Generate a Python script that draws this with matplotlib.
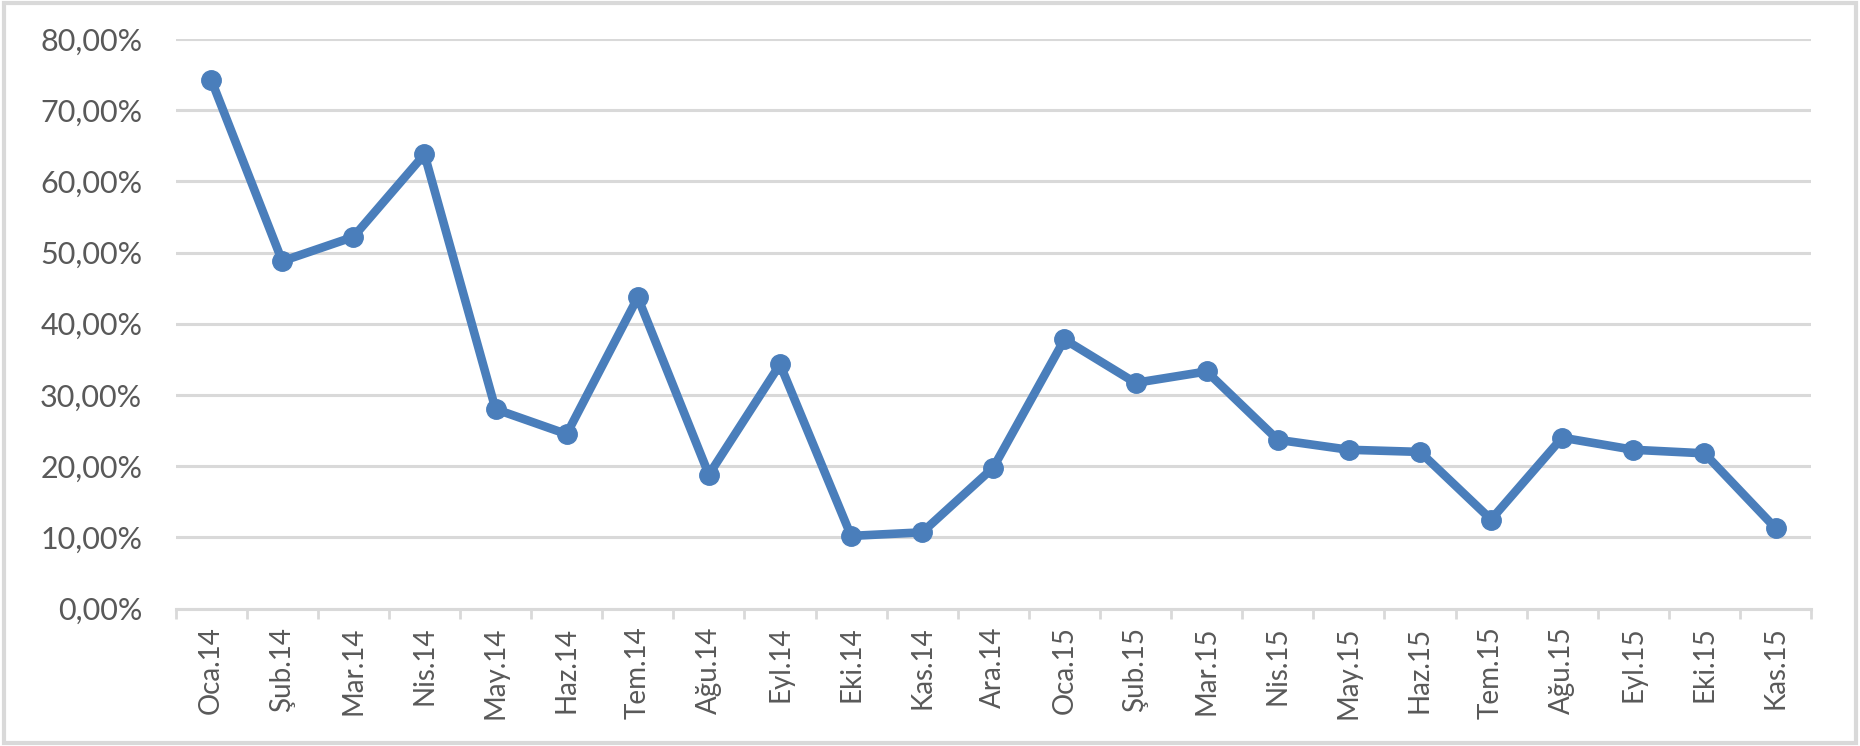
import matplotlib
matplotlib.use('Agg')
import matplotlib.pyplot as plt
from matplotlib.ticker import FuncFormatter, FixedLocator
from matplotlib.patches import Rectangle
import numpy as np

# months (Turkish abbreviations)
months = ['Oca.14', 'Şub.14', 'Mar.14', 'Nis.14', 'May.14', 'Haz.14', 'Tem.14',
          'Ağu.14', 'Eyl.14', 'Eki.14', 'Kas.14', 'Ara.14', 'Oca.15', 'Şub.15',
          'Mar.15', 'Nis.15', 'May.15', 'Haz.15', 'Tem.15', 'Ağu.15', 'Eyl.15',
          'Eki.15', 'Kas.15']

# rate in percent
rates = [74.3, 48.8, 52.2, 63.8, 28.0, 24.5, 43.7, 18.8, 34.3, 10.2, 10.7, 19.8,
         37.8, 31.7, 33.3, 23.7, 22.3, 22.0, 12.5, 24.0, 22.3, 21.8, 11.3]

y_ticks = [0, 10, 20, 30, 40, 50, 60, 70, 80]

plt.rcParams['font.family'] = ['Lato', 'DejaVu Sans']

fig = plt.figure(figsize=(18.6, 7.46), dpi=100)
ax = fig.add_axes([0.0944, 0.1843, 0.8793, 0.7634])

x = np.arange(len(months))
ax.plot(x, rates, color='#4A7EBB', linewidth=6.2, marker='o', markersize=14,
        solid_joinstyle='round', zorder=3)

ax.set_xlim(-0.5, len(months) - 0.5)
ax.set_ylim(0, 80)
ax.set_yticks(y_ticks)
ax.yaxis.set_major_formatter(FuncFormatter(lambda v, p: ('%.2f' % v).replace('.', ',') + '%'))
ax.grid(axis='y', color='#D9D9D9', linewidth=2.2, zorder=0)

ax.set_xticks(x)
ax.set_xticklabels(months, rotation=90)
ax.xaxis.set_minor_locator(FixedLocator(np.arange(len(months) + 1) - 0.5))
ax.tick_params(axis='x', which='major', length=0, pad=13, labelsize=20, labelcolor='#595959')
ax.tick_params(axis='x', which='minor', length=7, width=2, color='#D9D9D9')
ax.tick_params(axis='y', length=0, pad=24, labelsize=22, labelcolor='#595959')

for s in ['top', 'right', 'left']:
    ax.spines[s].set_visible(False)
ax.spines['bottom'].set_color('#D9D9D9')
ax.spines['bottom'].set_linewidth(2.2)

# outer frame of the chart
fig.patches.append(Rectangle((0.002, 0.004), 0.996, 0.992, transform=fig.transFigure,
                             fill=False, edgecolor='#D9D9D9', linewidth=3))

fig.savefig('out.png', dpi=100)
